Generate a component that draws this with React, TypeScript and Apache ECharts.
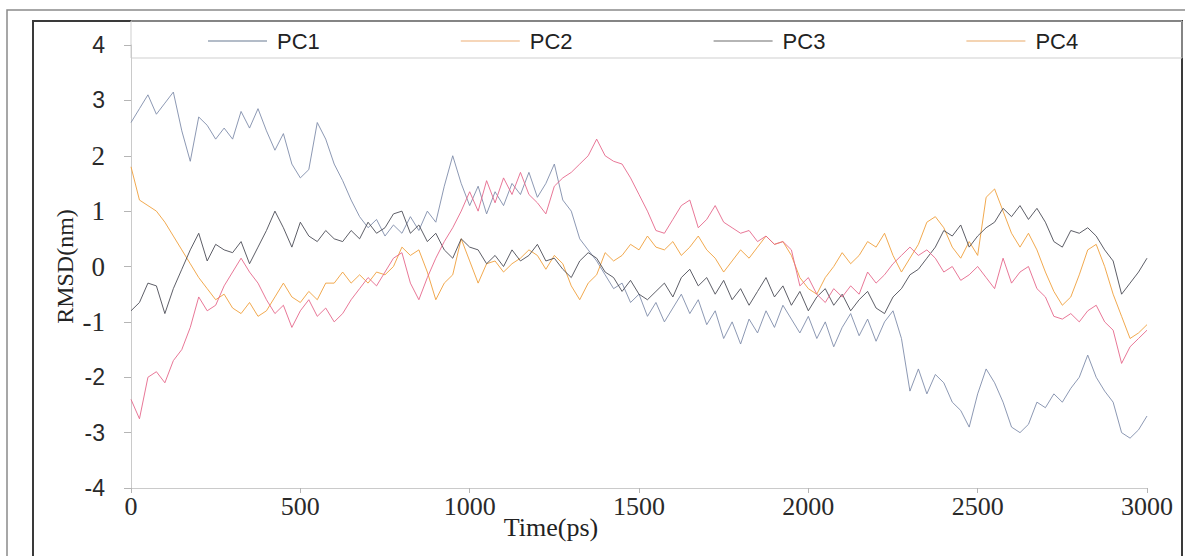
import React, { useEffect, useRef } from "react";
import * as echarts from "echarts";

// Time axis (ps), sampled every 25 ps from 0 to 3000
const timePs: number[] = Array.from({ length: 121 }, (_, i) => i * 25);

const seriesNames = ["PC1", "PC2", "PC3", "PC4"];

const pc1: number[] = [
  2.6, 2.85, 3.1, 2.75, 2.95, 3.15, 2.45, 1.9, 2.7, 2.55,
  2.3, 2.5, 2.3, 2.8, 2.5, 2.85, 2.45, 2.1, 2.4, 1.85,
  1.6, 1.75, 2.6, 2.3, 1.85, 1.55, 1.2, 0.9, 0.7, 0.85,
  0.55, 0.75, 0.6, 0.9, 0.65, 1.0, 0.8, 1.45, 2.0, 1.5,
  1.1, 1.45, 0.95, 1.35, 1.1, 1.5, 1.3, 1.7, 1.25, 1.5,
  1.85, 1.2, 1.0, 0.5, 0.3, 0.1, -0.15, -0.4, -0.3, -0.65,
  -0.5, -0.9, -0.65, -1.0, -0.75, -0.5, -0.85, -0.6, -1.05, -0.8,
  -1.3, -1.0, -1.4, -0.95, -1.2, -0.8, -1.1, -0.7, -0.95, -1.2,
  -0.9, -1.3, -1.0, -1.45, -1.1, -0.85, -1.25, -0.95, -1.35, -1.0,
  -0.8, -1.3, -2.25, -1.85, -2.3, -1.95, -2.1, -2.45, -2.6, -2.9,
  -2.3, -1.85, -2.1, -2.45, -2.9, -3.0, -2.85, -2.45, -2.55, -2.3,
  -2.45, -2.2, -2.0, -1.6, -2.0, -2.25, -2.45, -3.0, -3.1, -2.95,
  -2.7,
];

const pc2: number[] = [
  1.8, 1.2, 1.1, 1.0, 0.8, 0.55, 0.3, 0.05, -0.2, -0.4,
  -0.6, -0.5, -0.75, -0.85, -0.65, -0.9, -0.8, -0.55, -0.3, -0.55,
  -0.65, -0.45, -0.6, -0.3, -0.3, -0.1, -0.3, -0.15, -0.3, -0.1,
  -0.15, 0.0, 0.35, 0.2, 0.3, -0.1, -0.6, -0.3, -0.15, 0.5,
  0.1, -0.3, 0.05, 0.1, -0.1, 0.05, 0.15, 0.3, 0.2, -0.05,
  0.2, 0.05, -0.35, -0.6, -0.3, -0.15, 0.25, 0.1, 0.2, 0.4,
  0.3, 0.55, 0.35, 0.3, 0.45, 0.2, 0.35, 0.55, 0.3, 0.15,
  -0.1, 0.1, 0.3, 0.15, 0.35, 0.55, 0.4, 0.45, 0.2, -0.2,
  -0.4, -0.5, -0.2, 0.0, 0.25, 0.05, 0.2, 0.45, 0.35, 0.6,
  0.2, -0.1, 0.15, 0.4, 0.8, 0.9, 0.7, 0.35, 0.15, 0.45,
  0.2, 1.25, 1.4, 1.0, 0.6, 0.35, 0.6, 0.3, -0.1, -0.45,
  -0.7, -0.55, -0.15, 0.3, 0.4, 0.0, -0.5, -0.9, -1.3, -1.2,
  -1.05,
];

const pc3: number[] = [
  -0.8, -0.65, -0.3, -0.35, -0.85, -0.4, -0.05, 0.3, 0.6, 0.1,
  0.4, 0.3, 0.25, 0.45, 0.05, 0.35, 0.65, 1.0, 0.7, 0.35,
  0.8, 0.55, 0.45, 0.65, 0.5, 0.45, 0.65, 0.5, 0.8, 0.6,
  0.7, 0.95, 1.0, 0.6, 0.75, 0.45, 0.6, 0.3, 0.15, 0.5,
  0.35, 0.3, 0.05, 0.2, 0.0, 0.3, 0.1, 0.2, 0.4, 0.1,
  0.15, -0.05, -0.2, 0.1, 0.25, 0.15, -0.1, -0.2, -0.45, -0.25,
  -0.5, -0.6, -0.45, -0.3, -0.55, -0.2, -0.05, -0.35, -0.2, -0.5,
  -0.25, -0.6, -0.4, -0.7, -0.45, -0.2, -0.55, -0.35, -0.7, -0.45,
  -0.8, -0.55, -0.4, -0.7, -0.5, -0.8, -0.6, -0.45, -0.75, -0.85,
  -0.55, -0.4, -0.15, -0.05, 0.15, 0.35, 0.65, 0.55, 0.75, 0.35,
  0.55, 0.7, 0.8, 1.05, 0.9, 1.1, 0.85, 1.05, 0.8, 0.45,
  0.35, 0.65, 0.6, 0.7, 0.55, 0.3, 0.1, -0.5, -0.3, -0.1,
  0.15,
];

const pc4: number[] = [
  -2.4, -2.75, -2.0, -1.9, -2.1, -1.7, -1.5, -1.1, -0.55, -0.8,
  -0.7, -0.35, -0.1, 0.15, -0.1, -0.3, -0.6, -0.85, -0.7, -1.1,
  -0.8, -0.6, -0.9, -0.75, -1.0, -0.85, -0.6, -0.4, -0.2, -0.35,
  -0.1, 0.15, 0.25, -0.3, -0.6, -0.2, 0.15, 0.45, 0.7, 1.0,
  1.35, 1.0, 1.55, 1.15, 1.6, 1.3, 1.7, 1.3, 1.15, 0.95,
  1.45, 1.6, 1.7, 1.85, 2.0, 2.3, 2.0, 1.9, 1.85, 1.6,
  1.3, 1.0, 0.65, 0.6, 0.85, 1.1, 1.2, 0.7, 0.85, 1.1,
  0.8, 0.7, 0.6, 0.65, 0.45, 0.55, 0.4, 0.45, 0.3, -0.35,
  -0.2, -0.5, -0.65, -0.4, -0.55, -0.35, -0.5, -0.1, -0.3, -0.15,
  0.05, 0.2, 0.35, 0.2, 0.3, 0.15, -0.1, 0.0, -0.25, -0.15,
  0.0, -0.2, -0.4, 0.15, -0.3, -0.1, 0.0, -0.4, -0.55, -0.9,
  -0.95, -0.85, -1.0, -0.8, -0.7, -1.0, -1.15, -1.75, -1.45, -1.3,
  -1.15,
];

const xTicks = { min: 0, max: 3000, interval: 500 };
const yTicks = { min: -4, max: 4, interval: 1 };
const sansYLabels = [4, 3, -2, -3, -4];

const seriesColors = ["#7f8dab", "#f0a03c", "#4b4d56", "#e6688c"];
const legendColors = ["#9aa6b6", "#f3c9a2", "#9c9c9c", "#f0c69a"];

const pair = (vals: number[]) => timePs.map((t, i) => [t, vals[i]]);

export default function App() {
  const ref = useRef<HTMLDivElement>(null);

  useEffect(() => {
    if (!ref.current) return;
    const chart = echarts.init(ref.current, undefined, { renderer: "svg" });
    const allValues = [pc1, pc2, pc3, pc4];
    chart.setOption({
      animation: false,
      backgroundColor: "#ffffff",
      grid: { left: 131, right: 38, top: 45, bottom: 68, containLabel: false },
      graphic: [
        {
          type: "rect",
          z: -1,
          silent: true,
          shape: { x: 7, y: 10, width: 1190, height: 560 },
          style: { fill: "none", stroke: "#8a8a8a", lineWidth: 1.5 },
        },
        {
          type: "rect",
          z: -1,
          silent: true,
          shape: { x: 33, y: 21, width: 1149, height: 550 },
          style: { fill: "none", stroke: "#3a3a3a", lineWidth: 2 },
        },
        {
          type: "rect",
          z: -1,
          silent: true,
          shape: { x: 131, y: 21, width: 1051, height: 37 },
          style: { fill: "none", stroke: "#cfcfcf", lineWidth: 1 },
        },
      ],
      legend: {
        left: 203,
        top: 25,
        icon: "rect",
        itemWidth: 59,
        itemHeight: 1.5,
        itemGap: 141,
        textStyle: {
          fontFamily: "Liberation Sans",
          fontSize: 22,
          color: "#222",
          width: 55,
          padding: [0, 0, 0, 5],
        },
        data: seriesNames.map((n, i) => ({
          name: n,
          itemStyle: { color: legendColors[i], borderWidth: 0 },
        })),
      },
      xAxis: {
        type: "value",
        min: xTicks.min,
        max: xTicks.max,
        interval: xTicks.interval,
        name: "Time(ps)",
        nameLocation: "middle",
        nameGap: 26,
        nameMoveOverlap: false,
        nameTextStyle: {
          fontFamily: "Liberation Serif",
          fontSize: 26,
          color: "#222",
          padding: [0, 176, 0, 0],
        },
        axisLine: { show: true, onZero: false, lineStyle: { color: "#cacaca" } },
        axisTick: { show: true, length: 5, lineStyle: { color: "#b5b5b5" } },
        splitLine: { show: false },
        axisLabel: {
          fontFamily: "Liberation Serif",
          fontSize: 26,
          color: "#2a2a2a",
          margin: 5,
          formatter: (v: number) => String(v),
        },
      },
      yAxis: {
        type: "value",
        min: yTicks.min,
        max: yTicks.max,
        interval: yTicks.interval,
        name: "RMSD(nm)",
        nameLocation: "middle",
        nameGap: 54,
        nameMoveOverlap: false,
        nameTextStyle: {
          fontFamily: "Liberation Serif",
          fontSize: 24,
          color: "#222",
        },
        axisLine: { show: true, onZero: false, lineStyle: { color: "#cacaca" } },
        axisTick: { show: true, length: 7, lineStyle: { color: "#b5b5b5" } },
        splitLine: { show: false },
        axisLabel: {
          margin: 26,
          formatter: (v: number) =>
            sansYLabels.includes(v) ? `{s|${v}}` : `{r|${v}}`,
          rich: {
            s: { fontFamily: "Liberation Sans", fontSize: 23, color: "#2a2a2a" },
            r: { fontFamily: "Liberation Serif", fontSize: 27, color: "#2a2a2a" },
          },
        },
      },
      series: seriesNames.map((n, i) => ({
        name: n,
        type: "line",
        data: pair(allValues[i]),
        symbol: "none",
        showSymbol: false,
        lineStyle: { color: seriesColors[i], width: 1, opacity: 0.9 },
        itemStyle: { color: seriesColors[i] },
      })),
    });
    return () => chart.dispose();
  }, []);

  return (
    <div
      ref={ref}
      style={{ position: "fixed", left: 0, top: 0, width: 1185, height: 556 }}
    />
  );
}
